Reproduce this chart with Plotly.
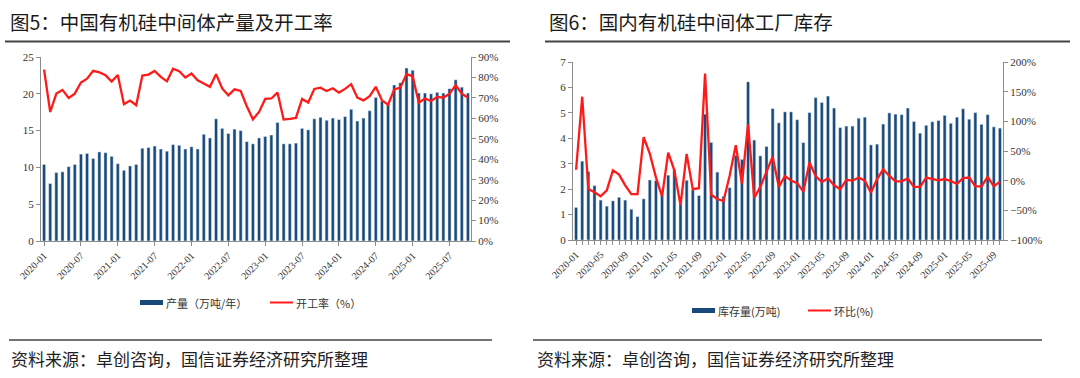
import plotly.graph_objects as go

# ---------------- data ----------------
months = [f"{y}-{m:02d}" for y in range(2020, 2026) for m in range(1, 13)][:70]

# 图5: 产量（万吨/年）
output = [10.4, 7.8, 9.3, 9.4, 10.1, 10.4, 11.8, 11.9, 11.2, 12.1, 12.0, 11.5,
          10.5, 9.6, 10.2, 10.4, 12.6, 12.7, 12.9, 12.5, 12.2, 13.1, 13.0, 12.5,
          12.8, 12.5, 14.5, 14.0, 16.6, 15.3, 14.6, 15.2, 15.0, 13.5, 13.2, 14.0,
          14.2, 14.4, 16.1, 13.2, 13.2, 13.3, 15.3, 15.1, 16.6, 16.8, 16.4, 16.7,
          16.5, 16.9, 17.9, 16.3, 16.7, 17.7, 19.5, 19.0, 18.6, 21.2, 21.5, 23.5,
          23.2, 20.1, 20.1, 20.0, 20.2, 20.1, 20.7, 21.9, 20.9, 20.1]
# 开工率（%）
rate = [83.8, 63.1, 72.1, 73.9, 70.0, 72.1, 77.5, 79.4, 83.2, 82.5, 81.1, 78.0,
        81.2, 66.9, 68.7, 66.4, 80.9, 81.4, 83.2, 80.3, 78.1, 84.3, 83.0, 80.0,
        81.9, 78.6, 77.0, 75.4, 81.6, 74.6, 71.3, 74.2, 73.4, 65.9, 59.5, 63.1,
        69.5, 69.7, 72.6, 59.4, 59.7, 60.2, 69.5, 67.7, 74.4, 75.0, 73.4, 74.7,
        72.6, 74.4, 76.7, 70.1, 68.8, 70.8, 75.4, 68.8, 66.7, 74.1, 75.0, 81.6,
        80.6, 67.7, 69.7, 68.5, 70.5, 70.1, 72.1, 76.2, 72.1, 70.1]

# 图6: 库存量（万吨）
stock = [1.28, 3.10, 2.69, 2.14, 1.57, 1.33, 1.54, 1.68, 1.57, 1.21, 0.92, 1.62,
         2.36, 2.34, 1.78, 2.55, 2.76, 1.41, 2.35, 1.97, 1.75, 4.95, 3.84, 2.67,
         1.72, 2.06, 3.33, 3.17, 6.22, 3.93, 3.31, 3.68, 5.17, 4.61, 5.04, 5.04,
         4.73, 3.83, 5.01, 5.60, 5.41, 5.66, 5.19, 4.42, 4.48, 4.48, 4.79, 4.83,
         3.74, 3.77, 4.56, 5.00, 4.95, 4.93, 5.19, 4.66, 4.20, 4.51, 4.65, 4.70,
         4.90, 4.59, 4.83, 5.16, 4.75, 5.01, 4.55, 4.93, 4.45, 4.40]
# 环比（%）
mom = [18.4, 141.5, -14.2, -19.5, -26.4, -16.3, 17.3, 10.3, -7.8, -22.7, -22.7, 73.2,
       45.5, 5.5, -26.4, 47.1, 17.3, -41.4, 45.0, -14.2, -12.6, 180.4, -23.8, -31.0,
       -34.4, 8.2, 59.9, -5.1, 95.1, -29.1, -10.4, 16.2, 40.2, -10.4, 7.7, 0.2,
       -4.1, -18.4, 30.6, 7.7, -2.5, 3.9, -7.8, -14.2, 1.3, 0.0, 5.3, 0.0,
       -20.2, 2.7, 19.2, 8.0, -1.1, -1.1, 3.7, -10.6, -10.6, 5.3, 2.7, 0.5,
       2.7, -0.5, -5.3, 4.3, 5.3, -9.6, -9.6, 6.4, -9.6, -1.6]

title_left = "图5：中国有机硅中间体产量及开工率"
title_right = "图6：国内有机硅中间体工厂库存"
source_text = "资料来源：卓创咨询，国信证券经济研究所整理"
legend_left = ["产量（万吨/年）", "开工率（%）"]
legend_right = ["库存量(万吨)", "环比(%)"]

ticks_left = months[::6]
ticks_right_text = [m if i % 4 == 0 else "" for i, m in enumerate(months)]

# ---------------- styling ----------------
W, H = 1080, 378
BAR = "#17497a"
RED = "#ff1a1a"
AX = "#8c8c8c"
TXT = "#333333"
SERIF = "Liberation Serif, Times New Roman, serif"
CJK = "Noto Sans CJK SC, sans-serif"


def px(x):
    return x / W


def py(y):
    return 1 - y / H


fig = go.Figure()

fig.add_trace(go.Bar(x=months, y=output, marker_color=BAR, xaxis="x", yaxis="y",
                     name=legend_left[0], showlegend=False))
fig.add_trace(go.Scatter(x=months, y=rate, mode="lines", line=dict(color=RED, width=2.3),
                         xaxis="x", yaxis="y2", name=legend_left[1], showlegend=False))
fig.add_trace(go.Bar(x=months, y=stock, marker_color=BAR, xaxis="x2", yaxis="y3",
                     name=legend_right[0], showlegend=False))
fig.add_trace(go.Scatter(x=months, y=mom, mode="lines", line=dict(color=RED, width=2.3),
                         xaxis="x2", yaxis="y4", name=legend_right[1], showlegend=False))

tickfont = dict(family=SERIF, size=11, color=TXT)
xfont = dict(family=SERIF, size=10, color=TXT)

common_y = dict(showgrid=False, zeroline=False, showline=True, linecolor=AX, linewidth=1,
                ticks="outside", ticklen=4, tickcolor=AX, tickfont=tickfont, automargin=False)
common_x = dict(type="category", range=[-0.5, 69.5], tickmode="array", tickangle=-45,
                tickfont=xfont, showline=True, linecolor=AX, linewidth=1, ticks="outside",
                ticklen=4, tickcolor=AX, showgrid=False, automargin=False)

fig.update_layout(
    width=W, height=H, margin=dict(l=0, r=0, t=0, b=0, pad=0), autosize=False,
    paper_bgcolor="white", plot_bgcolor="white",
    bargap=0.5, showlegend=False,
    xaxis=dict(domain=[px(41), px(471)], anchor="y", tickvals=ticks_left,
               ticktext=ticks_left, **common_x),
    yaxis=dict(domain=[py(241), py(57)], anchor="x", range=[0, 25], dtick=5, **common_y),
    yaxis2=dict(overlaying="y", anchor="x", side="right", range=[0, 90], dtick=10,
                ticksuffix="%", **common_y),
    xaxis2=dict(domain=[px(573), px(1003)], anchor="y3", tickvals=months,
                ticktext=ticks_right_text, **common_x),
    yaxis3=dict(domain=[py(240), py(62)], anchor="x2", range=[0, 7], dtick=1, **common_y),
    yaxis4=dict(overlaying="y3", anchor="x2", side="right", range=[-100, 200], dtick=50,
                ticksuffix="%", **common_y),
)

shapes = []
annotations = []

# titles + rules
for x0, x1, tx, title in [(5, 510, 8, title_left), (545, 1070, 547, title_right)]:
    annotations.append(dict(xref="paper", yref="paper", x=px(tx), y=py(21), text=title,
                            showarrow=False, xanchor="left", yanchor="middle",
                            font=dict(family=CJK, size=19.5, color="#1a1a1a")))
    shapes.append(dict(type="line", xref="paper", yref="paper", x0=px(x0), x1=px(x1),
                       y0=py(41.5), y1=py(41.5), line=dict(color="#444444", width=2)))

for x0, x1, tx in [(9, 492, 9), (533, 1042, 535)]:
    shapes.append(dict(type="line", xref="paper", yref="paper", x0=px(x0), x1=px(x1),
                       y0=py(340), y1=py(340), line=dict(color="#444444", width=1.5)))
    annotations.append(dict(xref="paper", yref="paper", x=px(tx), y=py(358), text=source_text,
                            showarrow=False, xanchor="left", yanchor="middle",
                            font=dict(family=CJK, size=17, color="#222222")))

# legends
legfont = dict(family=CJK, size=11, color=TXT)
for (bx, lx, ly, labels) in [(140, 270, 302.5, legend_left), (692, 808, 310.5, legend_right)]:
    shapes.append(dict(type="rect", xref="paper", yref="paper", x0=px(bx), x1=px(bx + 23),
                       y0=py(ly + 2.5), y1=py(ly - 2.5), fillcolor=BAR, line=dict(width=0)))
    annotations.append(dict(xref="paper", yref="paper", x=px(bx + 24), y=py(ly), text=labels[0],
                            showarrow=False, xanchor="left", yanchor="middle", font=legfont))
    shapes.append(dict(type="line", xref="paper", yref="paper", x0=px(lx), x1=px(lx + 23),
                       y0=py(ly), y1=py(ly), line=dict(color=RED, width=2)))
    annotations.append(dict(xref="paper", yref="paper", x=px(lx + 24), y=py(ly), text=labels[1],
                            showarrow=False, xanchor="left", yanchor="middle", font=legfont))

fig.update_layout(shapes=shapes, annotations=annotations)

fig.write_html("out.html", config={"displayModeBar": False},
               post_script="document.body.style.margin='0px';")
